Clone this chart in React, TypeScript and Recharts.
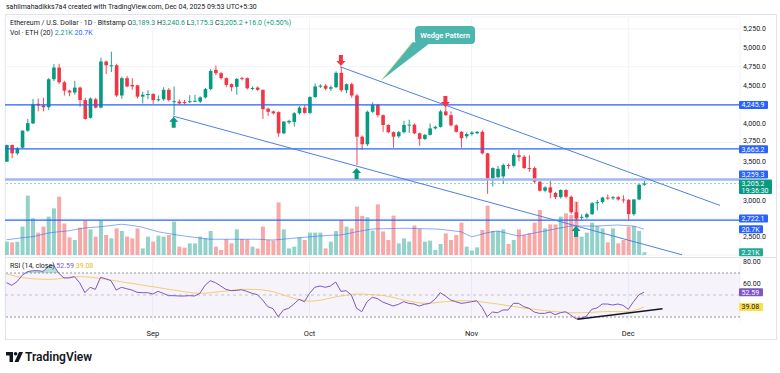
import React from 'react';
import {
  ComposedChart, Bar, Line, Area, Cell, XAxis, YAxis, CartesianGrid,
  ReferenceLine, ReferenceArea, ReferenceDot,
} from 'recharts';

// ETH/USD daily, Aug 04 -> Dec 04 2025 (index 0..122)
const opens = [
  3495, 3715, 3605, 3680, 3905, 4000, 4260, 4240, 4215, 4585,
  4740, 4545, 4435, 4410, 4475, 4310, 4075, 4320, 4210, 4820,
  4765, 4770, 4370, 4600, 4510, 4505, 4355, 4380, 4390, 4310,
  4320, 4445, 4290, 4290, 4285, 4285, 4295, 4290, 4345, 4455,
  4710, 4665, 4600, 4520, 4485, 4600, 4600, 4465, 4475, 4445,
  4195, 4160, 4150, 3870, 4015, 4020, 4135, 4210, 4140, 4350,
  4490, 4500, 4460, 4480, 4670, 4440, 4520, 4370, 3825, 3725,
  4155, 4245, 4110, 3980, 3885, 3830, 3885, 3980, 3985, 3870,
  3795, 3850, 3935, 3955, 4160, 4110, 3975, 3890, 3830, 3860,
  3870, 3890, 3605, 3275, 3290, 3300, 3450, 3440, 3580, 3560,
  3410, 3410, 3230, 3110, 3155, 3080, 3025, 3120, 3030, 2825,
  2755, 2760, 2800, 2945, 2960, 3020, 3010, 3025, 2995, 2990,
  2800, 2995, 3189.3,
];
const highs = [
  3720, 3720, 3690, 3910, 4060, 4325, 4330, 4340, 4600, 4785,
  4790, 4565, 4445, 4565, 4490, 4340, 4345, 4340, 4870, 4830,
  4950, 4790, 4620, 4630, 4600, 4510, 4420, 4440, 4400, 4370,
  4480, 4470, 4490, 4320, 4310, 4375, 4380, 4360, 4470, 4720,
  4765, 4680, 4610, 4530, 4600, 4620, 4610, 4490, 4490, 4450,
  4210, 4170, 4160, 4030, 4050, 4150, 4230, 4240, 4360, 4530,
  4520, 4520, 4500, 4690, 4750, 4530, 4540, 4390, 3840, 4170,
  4280, 4260, 4120, 3990, 3895, 3900, 4035, 4050, 4000, 3880,
  3860, 4000, 3970, 4180, 4240, 4160, 3990, 3900, 3880, 3900,
  3900, 3910, 3610, 3420, 3440, 3470, 3470, 3610, 3650, 3580,
  3580, 3430, 3240, 3170, 3245, 3095, 3130, 3130, 3050, 2960,
  2800, 2820, 2960, 2990, 3030, 3060, 3040, 3040, 3050, 3000,
  3000, 3200, 3240.6,
];
const lows = [
  3490, 3540, 3580, 3670, 3890, 3995, 4160, 4160, 4180, 4560,
  4520, 4370, 4360, 4380, 4220, 4050, 4065, 4200, 4200, 4655,
  4680, 4350, 4325, 4480, 4445, 4330, 4265, 4320, 4260, 4290,
  4300, 4290, 4110, 4250, 4250, 4270, 4280, 4270, 4330, 4440,
  4640, 4580, 4480, 4425, 4380, 4570, 4450, 4440, 4430, 4060,
  4100, 4120, 3825, 3860, 3990, 3960, 4120, 4130, 4125, 4340,
  4470, 4440, 4430, 4470, 4420, 4400, 4340, 3450, 3650, 3700,
  4140, 4080, 3890, 3870, 3680, 3810, 3870, 3875, 3860, 3705,
  3780, 3840, 3920, 3945, 4100, 3960, 3880, 3680, 3800, 3840,
  3860, 3590, 3070, 3165, 3270, 3200, 3400, 3420, 3500, 3400,
  3360, 3210, 3100, 3090, 3010, 3000, 3005, 3010, 2800, 2720,
  2720, 2740, 2790, 2850, 2940, 2990, 2990, 2980, 2950, 2720,
  2780, 2985, 3175.3,
];
const closes = [
  3715, 3605, 3670, 3905, 4005, 4255, 4240, 4215, 4585, 4740,
  4545, 4435, 4410, 4475, 4310, 4060, 4330, 4210, 4820, 4770,
  4770, 4370, 4600, 4490, 4490, 4355, 4380, 4390, 4310, 4320,
  4445, 4310, 4295, 4265, 4270, 4295, 4300, 4345, 4455, 4695,
  4665, 4600, 4510, 4480, 4590, 4590, 4465, 4470, 4445, 4190,
  4155, 4135, 3870, 4025, 4035, 4135, 4210, 4140, 4350, 4490,
  4500, 4460, 4480, 4670, 4440, 4520, 4370, 3825, 3725, 4155,
  4245, 4110, 3980, 3885, 3825, 3885, 3980, 3985, 3870, 3795,
  3850, 3935, 3955, 4160, 4110, 3975, 3890, 3805, 3860, 3880,
  3890, 3605, 3275, 3410, 3400, 3450, 3440, 3585, 3555, 3410,
  3400, 3230, 3110, 3155, 3085, 3025, 3120, 3030, 2825, 2745,
  2765, 2800, 2945, 2960, 3020, 3010, 3025, 2995, 2990, 2800,
  2995, 3189.3, 3205.2,
];
// volume in thousands of ETH
const volumes = [
  10.7, 10.1, 10.7, 22.7, 47.5, 29.3, 17.9, 22.7, 30.7, 37.3,
  46.7, 25.3, 14.1, 12, 21.9, 27.5, 20.5, 14.7, 27.5, 16,
  13.3, 21.3, 19.2, 14.7, 13.3, 21.3, 5.3, 14.7, 10.7, 15.5,
  14.7, 16, 26.7, 6.7, 5.9, 9.3, 9.3, 14.7, 13.3, 19.2,
  6.7, 4, 12.5, 9.3, 20.5, 12.8, 12.5, 6.7, 5.3, 22.7,
  12, 11.5, 42.1, 20.5, 5.3, 6.7, 14.1, 12, 17.9, 17.9,
  17.9, 5.3, 10.7, 19.2, 28, 22.7, 21.3, 38.7, 31.2, 30.1,
  19.5, 40.5, 18.9, 12, 31.5, 9.3, 13.3, 10.7, 23.6, 21,
  10.7, 11.5, 4, 8.8, 17.3, 12, 16, 25.9, 6.7, 3.5,
  6.1, 20, 39.5, 19.2, 19.2, 20.5, 8.8, 12, 20.5, 16,
  17.3, 25.9, 36, 21.3, 24.5, 24.5, 30.7, 33.3, 32, 42.7,
  14.7, 17.9, 25.9, 23.2, 21.3, 10.1, 21.3, 9.3, 12, 22.7,
  23.2, 19.2, 2.21,
];
const volMa = [
  12.2, 12.7, 13.2, 13.8, 14.3, 14.6, 15.6, 16.6, 17.6, 18.1,
  18.6, 19.0, 19.4, 20.2, 21.0, 21.6, 22.0, 22.3, 22.6, 23.1,
  23.6, 24.1, 24.6, 24.2, 23.6, 23.0, 22.2, 21.0, 19.8, 18.6,
  17.9, 17.2, 16.5, 15.8, 15.2, 14.6, 14.1, 13.6, 13.1, 12.6,
  12.6, 12.6, 12.6, 12.6, 12.6, 12.6, 12.6, 12.6, 12.6, 12.4,
  12.2, 12.0, 12.3, 12.7, 13.1, 13.5, 13.9, 14.2, 14.5, 14.9,
  15.2, 15.5, 15.8, 15.9, 16.0, 16.8, 17.7, 18.6, 19.3, 20.1,
  20.8, 20.9, 21.0, 21.1, 21.2, 21.3, 21.4, 21.3, 21.2, 21.1,
  21.0, 20.9, 20.8, 20.6, 20.1, 19.6, 19.1, 18.6, 16.6, 14.6,
  15.5, 16.7, 17.8, 18.6, 19.2, 18.2, 17.2, 16.2, 15.2, 16.0,
  16.8, 17.6, 18.4, 19.2, 20.0, 20.8, 21.6, 22.4, 23.2, 23.2,
  23.2, 23.2, 23.2, 23.2, 23.4, 23.6, 23.8, 24.0, 23.7, 23.5,
  23.2, 22.0, 20.7,
];
const rsi = [
  61.2, 58.8, 62.1, 67.9, 71.2, 72.1, 72.1, 71.5, 75.8, 77.3,
  69.7, 65.5, 65.5, 66.7, 61.2, 52.1, 57.0, 55.1, 66.1, 64.8,
  63.0, 54.5, 57.0, 55.7, 54.5, 52.4, 52.1, 52.1, 50.9, 53.3,
  51.5, 49.4, 49.4, 49.1, 49.1, 49.4, 49.1, 51.5, 58.8, 63.0,
  61.2, 58.2, 55.1, 53.9, 54.2, 54.8, 53.3, 51.5, 50.3, 45.5,
  39.4, 37.6, 30.3, 36.4, 37.9, 41.8, 46.1, 43.9, 51.5, 57.0,
  58.2, 57.0, 58.2, 61.8, 53.3, 53.9, 50.0, 37.9, 34.8, 43.9,
  47.9, 46.7, 43.6, 41.8, 40.0, 41.5, 43.9, 42.4, 41.8, 40.0,
  41.5, 42.4, 46.1, 52.1, 49.1, 45.5, 43.9, 42.4, 43.0, 43.9,
  44.8, 38.8, 30.3, 34.5, 33.9, 36.4, 36.4, 42.4, 42.4, 39.4,
  37.9, 34.5, 33.3, 33.3, 34.5, 32.1, 33.9, 34.8, 31.8, 28.2,
  28.8, 30.9, 37.0, 38.2, 41.8, 41.8, 40.9, 41.8, 40.6, 37.0,
  43.9, 50.0, 52.59,
];
const rsiMa = [
  69.1, 68.0, 66.8, 65.8, 65.2, 64.8, 64.5, 64.3, 64.2, 64.3,
  64.8, 65.5, 66.2, 66.5, 66.7, 66.5, 66.2, 65.6, 65.0, 64.2,
  63.6, 62.8, 62.0, 61.2, 60.6, 59.8, 59.0, 58.2, 57.6, 56.8,
  56.0, 55.2, 54.5, 53.8, 53.0, 52.3, 51.8, 51.5, 51.6, 52.0,
  52.6, 53.0, 53.6, 54.2, 54.8, 55.1, 55.2, 55.1, 55.0, 54.6,
  54.0, 53.0, 51.6, 50.0, 48.5, 47.0, 45.8, 45.0, 44.5, 44.6,
  45.2, 46.1, 47.2, 48.3, 49.1, 49.8, 50.5, 50.9, 50.9, 50.6,
  50.2, 50.0, 49.6, 48.8, 47.8, 46.6, 45.5, 44.5, 43.6, 42.8,
  42.4, 42.5, 42.9, 43.5, 43.9, 44.3, 44.6, 44.8, 44.8, 44.6,
  44.2, 43.7, 43.0, 42.4, 41.8, 41.0, 40.3, 39.6, 38.9, 38.1,
  37.6, 37.0, 36.4, 35.8, 35.3, 34.9, 34.5, 34.1, 33.9, 33.9,
  33.9, 34.0, 34.2, 34.5, 34.8, 35.0, 35.0, 34.9, 34.8, 34.9,
  35.6, 37.2, 39.08,
];

const priceTicks = [2500, 2750, 3000, 3250, 3500, 3750, 4000, 4250, 4500, 4750, 5000, 5250];
const hiddenPriceTicks = [2750, 3250, 4250];
const rsiTicks = [60, 80];
const monthTicks = [28, 58, 89, 119];
const monthLabels = ['Sep', 'Oct', 'Nov', 'Dec'];

const levels = [4245.9, 3665.2, 2722.1];
const keyLevel = 3259.3;
const lastPrice = 3205.2;
const lastVol = 2.21;
const lastVolMa = 20.7;
const lastRsi = 52.59;
const lastRsiMa = 39.08;

const upperWedge = [{ x: 63.83, y: 4751 }, { x: 136.56, y: 2916 }];
const lowerWedge = [{ x: 31.81, y: 4099 }, { x: 129.28, y: 2263 }];
const rsiTrend = [{ x: 109.28, y: 27.9 }, { x: 125.55, y: 37.5 }];
const downArrows = [{ i: 64, at: 4760 }, { i: 84, at: 4218 }];
const upArrows = [{ i: 32, at: 4090 }, { i: 67, at: 3411 }, { i: 109, at: 2644 }];
const calloutTip = { x: 71.81, y: 4575 };

const UP = '#089981';
const DOWN = '#f23645';
const VOL_UP = '#92d2cb';
const VOL_DOWN = '#f7a9a7';
const BLUE = '#2962ff';
const TREND = '#4f7fe6';
const INK = '#131722';
const FONT = 'Roboto, "Noto Sans", "DejaVu Sans", sans-serif';

const X_DOMAIN: [number, number] = [-0.287, 140.38];
const PRICE_DOMAIN: [number, number] = [2260, 5408.8];
const VOL_DOMAIN: [number, number] = [0, 190.4];
const RSI_DOMAIN: [number, number] = [25.45, 83.64];

const rows = opens.map((o, i) => ({
  i,
  open: o,
  high: highs[i],
  low: lows[i],
  close: closes[i],
  range: [lows[i], highs[i]],
  vol: volumes[i],
  volMa: volMa[i],
  rsi: rsi[i],
  rsiMa: rsiMa[i],
}));

const fmtPrice = (v: number) =>
  v.toLocaleString('en-US', { minimumFractionDigits: 1, maximumFractionDigits: 1 });

const Candle = (props: any) => {
  let { x, y, width, height } = props;
  const { open, close, high, low } = props.payload;
  if (height < 0) { y += height; height = -height; }
  const color = close >= open ? UP : DOWN;
  const cx = x + width / 2;
  const k = high === low ? 0 : height / (high - low);
  const top = y + (high - Math.max(open, close)) * k;
  const bot = y + (high - Math.min(open, close)) * k;
  return (
    <g>
      <line x1={cx} x2={cx} y1={y} y2={y + height} stroke={color} strokeWidth={0.9} />
      <rect x={cx - 1.8} y={top} width={3.6} height={Math.max(1, bot - top)} fill={color} />
    </g>
  );
};

const Arrow = (down: boolean) => (props: any) => {
  const { cx, cy } = props;
  const s = down ? -1 : 1;
  const pts = [
    [cx, cy], [cx + 4.5, cy + s * 5], [cx + 2, cy + s * 5], [cx + 2, cy + s * 11],
    [cx - 2, cy + s * 11], [cx - 2, cy + s * 5], [cx - 4.5, cy + s * 5],
  ].map((p) => p.join(',')).join(' ');
  return <polygon points={pts} fill={down ? DOWN : UP} />;
};

const Callout = (props: any) => {
  const { cx, cy } = props;
  const bx = cx + 33.3;
  const by = cy - 54;
  return (
    <g>
      <polygon points={`${cx},${cy} ${cx + 31},${cy - 38} ${cx + 47},${cy - 36}`} fill="#4cb5ae" />
      <line x1={cx} y1={cy} x2={cx + 31} y2={cy - 38} stroke="#c8dc6e" strokeWidth={0.8} />
      <rect x={bx} y={by} width={60} height={18} rx={4} fill="#4cb5ae" />
      <text x={bx + 30} y={by + 11.8} textAnchor="middle" fontSize={7.5} fontWeight={600} fill="#fff">
        Wedge Pattern
      </text>
    </g>
  );
};

// coloured value box on the right scale
const axisBox = (text: string, bg: string, w: number, fg = '#fff', dy = 0, sub?: string) => (props: any) => {
  const vb = props.viewBox;
  const x = vb.x + vb.width - 1;
  const y = vb.y + dy;
  const h = sub ? 14.5 : 8;
  return (
    <g>
      <rect x={x} y={y - 4} width={w} height={h} rx={1} fill={bg} />
      <text x={x + 2.5} y={y + 2.4} fontSize={7} fill={fg}>{text}</text>
      {sub && <text x={x + 2.5} y={y + 9.2} fontSize={7} fill={fg}>{sub}</text>}
    </g>
  );
};

const PriceTick = (props: any) => {
  const { x, y, payload } = props;
  if (hiddenPriceTicks.includes(payload.value)) return <g />;
  const nudge = payload.value === 3750 ? -1.5 : payload.value === 3000 ? 1.5 : 0;
  return <text x={x} y={y + nudge} dy={2.4} fontSize={7} fill={INK}>{fmtPrice(payload.value)}</text>;
};

const RsiTick = (props: any) => {
  const { x, y, payload } = props;
  return <text x={x} y={y} dy={2.4} fontSize={7} fill={INK}>{payload.value.toFixed(2)}</text>;
};

const abs = (left: number, top: number): React.CSSProperties => ({ position: 'absolute', left, top });

export default function App() {
  return (
    <div style={{ position: 'absolute', left: 0, top: 0, width: 780, height: 373, background: '#fff', fontFamily: FONT, overflow: 'hidden' }}>
      <div style={{ ...abs(6, 3), fontSize: 7, lineHeight: '8px', color: INK, whiteSpace: 'nowrap' }}>
        sahilmahadikks7a4 created with TradingView.com, Dec 04, 2025 09:53 UTC+5:30
      </div>
      <div style={{ ...abs(5, 14), width: 772, height: 326, border: '1px solid #e0e3eb', boxSizing: 'border-box' }} />

      {/* volume layer + grid */}
      <div style={abs(0, 0)}>
        <ComposedChart width={780} height={258} data={rows} margin={{ top: 17, right: 40, bottom: 3, left: 5 }}>
          <CartesianGrid yAxisId="p" stroke="#f0f3fa" />
          <XAxis dataKey="i" type="number" domain={X_DOMAIN} allowDataOverflow hide ticks={monthTicks} />
          <YAxis yAxisId="p" hide domain={PRICE_DOMAIN} ticks={priceTicks} allowDataOverflow />
          <YAxis yAxisId="v" hide domain={VOL_DOMAIN} allowDataOverflow />
          <Bar yAxisId="v" dataKey="vol" barSize={4} isAnimationActive={false}>
            {rows.map((r) => <Cell key={r.i} fill={r.close >= r.open ? VOL_UP : VOL_DOWN} />)}
          </Bar>
          <Line yAxisId="v" dataKey="volMa" stroke={BLUE} strokeOpacity={0.55} strokeWidth={1} dot={false} activeDot={false} isAnimationActive={false} />
          <ReferenceLine yAxisId="v" y={lastVolMa} stroke="none" label={axisBox('20.7K', BLUE, 24)} />
          <ReferenceLine yAxisId="v" y={lastVol} stroke="none" label={axisBox('2.21K', '#22ab94', 24)} />
        </ComposedChart>
      </div>

      {/* price layer */}
      <div style={abs(0, 0)}>
        <ComposedChart width={780} height={258} data={rows} margin={{ top: 17, right: 3, bottom: 3, left: 5 }}>
          <XAxis dataKey="i" type="number" domain={X_DOMAIN} allowDataOverflow hide />
          <YAxis yAxisId="p" orientation="right" domain={PRICE_DOMAIN} allowDataOverflow ticks={priceTicks} interval={0}
            width={37} tickLine={false} axisLine={false} tickSize={3} tickMargin={0} tick={(p: any) => <PriceTick {...p} />} />
          <ReferenceLine yAxisId="p" y={keyLevel} stroke="#a3b8ee" strokeWidth={2.6} label={axisBox('3,259.3', BLUE, 29, '#fff', -5)} />
          <ReferenceLine yAxisId="p" y={lastPrice} stroke={UP} strokeOpacity={0.45} strokeDasharray="2 2" label={axisBox('3,205.2', UP, 33, '#fff', 0, '19:36:30')} />
          {levels.map((lv) => (
            <ReferenceLine key={lv} yAxisId="p" y={lv} stroke={BLUE} strokeWidth={1.2}
              label={axisBox(fmtPrice(lv), BLUE, 29, '#fff', lv === 2722.1 ? -1.5 : lv === 3665.2 ? 0.5 : 0)} />
          ))}
          <ReferenceLine yAxisId="p" segment={upperWedge} stroke={TREND} strokeWidth={1} ifOverflow="visible" />
          <ReferenceLine yAxisId="p" segment={lowerWedge} stroke={TREND} strokeWidth={1} ifOverflow="visible" />
          <Bar yAxisId="p" dataKey="range" barSize={4} isAnimationActive={false} shape={(p: any) => <Candle {...p} />} />
          {downArrows.map((a) => (
            <ReferenceDot key={'d' + a.i} yAxisId="p" x={a.i} y={a.at} r={0} shape={Arrow(true)} />
          ))}
          {upArrows.map((a) => (
            <ReferenceDot key={'u' + a.i} yAxisId="p" x={a.i} y={a.at} r={0} shape={Arrow(false)} />
          ))}
          <ReferenceDot yAxisId="p" x={calloutTip.x} y={calloutTip.y} r={0} shape={Callout} />
        </ComposedChart>
      </div>

      <div style={{ ...abs(5, 257), width: 772, height: 1, background: '#e0e3eb' }} />

      {/* RSI pane + time axis */}
      <div style={abs(0, 0)}>
        <ComposedChart width={780} height={345} data={rows} margin={{ top: 258, right: 3, bottom: 0, left: 5 }}>
          <CartesianGrid horizontal={false} stroke="#f0f3fa" />
          <XAxis dataKey="i" type="number" domain={X_DOMAIN} allowDataOverflow ticks={monthTicks} interval={0}
            tickFormatter={(v: number) => monthLabels[monthTicks.indexOf(v)]} height={23}
            tickLine={false} axisLine={false} tickSize={6} tickMargin={2.5} tick={{ fontSize: 7.5, fill: INK }} />
          <YAxis orientation="right" domain={RSI_DOMAIN} allowDataOverflow ticks={rsiTicks} interval={0} width={37}
            tickLine={false} axisLine={false} tickSize={3} tickMargin={0} tick={(p: any) => <RsiTick {...p} />} />
          <ReferenceArea y1={30} y2={70} fill="#7e57c2" fillOpacity={0.07} stroke="none" />
          <ReferenceLine y={70} stroke="#787b86" strokeWidth={0.8} strokeDasharray="2 2" />
          <ReferenceLine y={50} stroke="#787b86" strokeOpacity={0.5} strokeWidth={0.8} strokeDasharray="3 3" />
          <ReferenceLine y={30} stroke="#787b86" strokeWidth={0.8} strokeDasharray="2 2" />
          <Area dataKey={(d: any) => [70, Math.max(70, d.rsi)]} stroke="none" fill={UP} fillOpacity={0.3} isAnimationActive={false} />
          <Area dataKey={(d: any) => [Math.min(30, d.rsi), 30]} stroke="none" fill={DOWN} fillOpacity={0.3} isAnimationActive={false} />
          <Line dataKey="rsiMa" stroke="#f2c55c" strokeOpacity={0.85} strokeWidth={1} dot={false} activeDot={false} isAnimationActive={false} />
          <Line dataKey="rsi" stroke="#7e57c2" strokeWidth={1} dot={false} activeDot={false} isAnimationActive={false} />
          <ReferenceLine segment={rsiTrend} stroke={INK} strokeWidth={1.4} ifOverflow="visible" />
          <ReferenceLine y={lastRsi} stroke="none" label={axisBox('52.59', '#7e57c2', 24)} />
          <ReferenceLine y={lastRsiMa} stroke="none" label={axisBox('39.08', '#fbe04d', 24, INK)} />
        </ComposedChart>
      </div>

      {/* legends */}
      <div style={{ ...abs(10, 19), fontSize: 7, lineHeight: '8px', color: INK, whiteSpace: 'nowrap' }}>
        Ethereum / U.S. Dollar · 1D · Bitstamp{'  '}
        O<span style={{ color: UP }}>3,189.3</span>{' '}
        H<span style={{ color: UP }}>3,240.6</span>{' '}
        L<span style={{ color: UP }}>3,175.3</span>{' '}
        C<span style={{ color: UP }}>3,205.2</span>{' '}
        <span style={{ color: UP }}>+16.0 (+0.50%)</span>
      </div>
      <div style={{ ...abs(10, 29), fontSize: 7, lineHeight: '8px', color: INK, whiteSpace: 'nowrap' }}>
        Vol · ETH (20){'  '}<span style={{ color: UP }}>2.21K</span>{' '}<span style={{ color: BLUE }}>20.7K</span>
      </div>
      <div style={{ ...abs(10, 262), fontSize: 7, lineHeight: '8px', color: INK, whiteSpace: 'nowrap' }}>
        RSI (14, close){' '}<span style={{ color: '#7e57c2' }}>52.59</span>{' '}<span style={{ color: '#e8b923' }}>39.08</span>
      </div>

      {/* TradingView mark */}
      <svg style={abs(6, 351)} width={18} height={12} viewBox="0 0 18 12">
        <path d="M0 1 H7 V11 H3.5 V4.5 H0 Z" fill={INK} />
        <circle cx={9.6} cy={2.8} r={1.8} fill={INK} />
        <polygon points="13,1 17,1 12.5,11 8.5,11" fill={INK} />
      </svg>
      <div style={{ ...abs(25, 349), fontSize: 12, lineHeight: '16px', fontWeight: 600, color: INK, whiteSpace: 'nowrap' }}>
        TradingView
      </div>
    </div>
  );
}
